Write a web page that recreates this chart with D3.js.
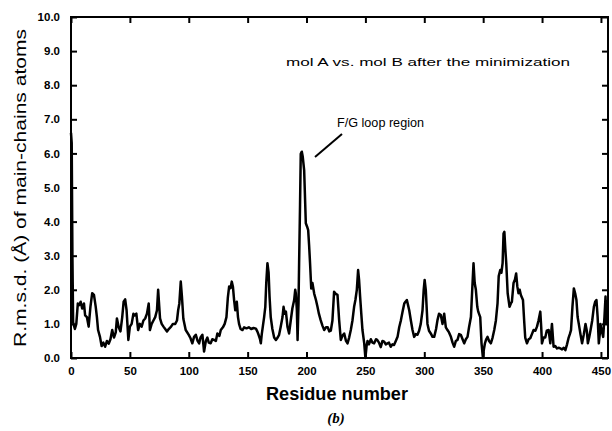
<!DOCTYPE html>
<html>
<head>
<meta charset="utf-8">
<script src="https://cdn.jsdelivr.net/npm/d3@7"></script>
<style>
  body { margin: 0; background: #fff; }
  svg { display: block; font-family: "Liberation Sans", Arial, sans-serif; }
</style>
</head>
<body>
<div id="chart"></div>
<script>
// Residue numbers and r.m.s.d. values, in matching groups
var residues = [
  0, 0.6, 1.2, 1.8, 2.5, 3.3, 4.5, 5.8, 7, 8.2,
  9.5, 11, 12, 13.5, 15, 16.5, 18, 19.5, 21, 22,
  23, 24.6, 26, 27.5, 29, 30.5, 32, 33.5, 35, 36.5,
  38, 39, 40.5, 42, 43.5, 44.7, 46, 47.2, 48.7, 50,
  51.5, 53, 54, 55.5, 57, 58.5, 60, 61.5, 63, 64.5,
  66, 67, 68.5, 70, 71.5, 73, 74, 75.6, 77, 78.5,
  80, 81.5, 83, 85, 86.5, 88.5, 90, 91, 92, 93.2,
  94.2, 95.4, 97.4, 100, 101.5, 103, 104.5, 106, 107.5, 108.8,
  110, 111.6, 113, 114.5, 115.8, 117, 118.6, 120, 121.5, 123,
  124.3, 126, 127.2, 129, 130.5, 132, 133.2, 134.3, 135.5, 136.5,
  137.5, 138.5, 139.5, 140.8, 141.8, 142.7, 144, 145.6, 147, 149,
  151, 153, 155, 157, 158.2, 159.3, 160.5, 161.2, 162, 163,
  164, 165, 165.8, 166.8, 167.8, 168.6, 169.6, 171, 172.5, 174,
  175.5, 176.7, 178, 179.6, 180.5, 181.5, 182.5, 183.8, 185.2, 186.6,
  188, 189.5, 190.4, 190.9, 191.8, 192.4, 193.2, 193.7, 194.5, 195.1,
  196, 196.8, 198, 199.4, 200.5, 201.4, 202.2, 203, 204, 205,
  206.5, 208, 209.3, 210.5, 212, 213.5, 215, 216.5, 218, 219.3,
  220.6, 222, 223.4, 224.8, 226.3, 227.7, 229.1, 230.5, 232, 233.5,
  234.8, 236.2, 237.6, 239, 240.4, 241.5, 242.7, 243.8, 244.6, 245.5,
  246.5, 247.5, 249, 250, 251, 251.8, 253, 254.6, 256, 257.4,
  259, 260, 261.5, 263, 264.5, 265.9, 267.3, 268.7, 270, 271.5,
  273, 274.3, 275.8, 277.3, 278.7, 280.1, 281.5, 283, 284, 285.2,
  286.2, 287.2, 288.6, 290, 291.4, 292.8, 294.2, 295.6, 297, 298.5,
  299.5, 300.3, 301.3, 302.7, 304, 305.5, 307, 308.4, 310, 311.2,
  312.5, 314, 315.5, 316.9, 318.3, 319.7, 321, 322.6, 324, 325.4,
  326.8, 328.2, 329.6, 331, 332.5, 333.9, 335.3, 336.7, 338, 339.6,
  340.7, 341.8, 342.8, 343.8, 345, 345.8, 347.5, 348.6, 349.8, 350.6,
  351.5, 352.6, 353.7, 355, 356.5, 358, 359.4, 360.8, 362.2, 363.2,
  364.5, 365.5, 366.5, 367.3, 368, 368.8, 369.6, 370.8, 372.4, 373.5,
  374.4, 375.8, 377, 378, 379, 380, 381, 382, 383.8, 384.8,
  385.7, 387.2, 388.6, 390, 391.4, 392.8, 394.3, 395.7, 397, 398.5,
  399.3, 399.9, 401.3, 402.7, 404, 405.6, 407, 408.4, 409.8, 411.2,
  412.7, 414, 415.5, 417, 418.5, 419.8, 421.2, 422.6, 423.6, 424.6,
  425.8, 427, 428.1, 429.2, 430.2, 431.2, 432.6, 434, 435.5, 436.9,
  438, 438.9, 440, 441.2, 442.6, 444, 445.1, 446.2, 447.2, 448.2,
  449, 449.6, 450.7, 451.9, 453, 453.9, 454.7, 455.8
];
var rmsd = [
  6.6, 6.3, 3.0, 1.05, 0.95, 0.85, 1.0, 1.6, 1.55, 1.65,
  1.45, 1.6, 1.25, 1.2, 0.92, 1.5, 1.9, 1.85, 1.5, 1.2,
  0.82, 0.62, 0.35, 0.45, 0.33, 0.5, 0.42, 0.55, 0.82, 0.6,
  0.75, 1.16, 0.9, 0.78, 1.2, 1.65, 1.72, 1.4, 0.53, 0.92,
  1.0, 1.3, 1.25, 1.3, 0.82, 1.0, 0.92, 1.1, 1.16, 1.3,
  1.6, 0.82, 1.0, 1.1, 1.2, 1.4, 2.0, 1.16, 1.0, 0.92,
  0.85, 0.78, 0.85, 0.92, 1.0, 1.0, 1.1, 1.4, 1.6, 2.24,
  1.8, 1.15, 0.82, 0.68, 0.58, 0.43, 0.62, 0.68, 0.5, 0.43,
  0.6, 0.68, 0.19, 0.5, 0.6, 0.45, 0.43, 0.55, 0.53, 0.5,
  0.72, 0.65, 0.82, 0.9, 1.0, 1.2, 1.78, 2.1, 2.05, 2.24,
  2.09, 1.7, 1.4, 1.65, 1.2, 1.0, 0.85, 0.82, 0.9, 0.87,
  0.9, 0.85, 0.88, 0.86, 0.78, 0.68, 0.55, 0.43, 0.7, 0.95,
  1.2, 1.5, 2.2, 2.78, 2.5, 1.8, 1.2, 0.85, 0.6, 0.53,
  0.6, 0.68, 0.9, 1.2, 1.5, 1.3, 1.36, 0.92, 0.72, 1.1,
  1.46, 1.7, 2.0, 1.9, 1.4, 0.53, 1.6, 2.78, 4.5, 5.99,
  6.05, 5.9, 5.5, 3.95, 3.85, 3.75, 3.3, 2.78, 2.04, 2.2,
  1.89, 1.7, 1.5, 1.3, 1.11, 0.95, 0.82, 0.9, 0.9, 0.78,
  0.8, 1.1, 1.94, 1.88, 1.85, 1.11, 0.53, 0.65, 0.72, 0.5,
  0.43, 0.6, 0.82, 1.1, 1.5, 1.7, 2.0, 2.58, 2.3, 1.8,
  1.3, 0.82, 0.43, 0.0, 0.35, 0.5, 0.4, 0.55, 0.45, 0.43,
  0.55, 0.53, 0.45, 0.32, 0.5, 0.48, 0.4, 0.43, 0.45, 0.33,
  0.4, 0.38, 0.5, 0.62, 0.9, 1.1, 1.35, 1.6, 1.65, 1.7,
  1.55, 1.4, 1.1, 0.82, 0.62, 0.7, 0.68, 0.8, 1.0, 1.4,
  2.0, 2.29, 1.98, 1.0, 0.8, 0.72, 0.62, 0.62, 0.85, 1.11,
  1.3, 1.26, 1.0, 1.3, 0.9, 0.82, 0.75, 0.62, 0.45, 0.33,
  0.5, 0.53, 0.7, 0.68, 0.55, 0.43, 0.55, 0.62, 0.9, 1.2,
  2.0, 2.78, 2.2, 2.0, 1.5, 1.36, 1.2, 0.43, 0.0, 0.25,
  0.43, 0.55, 0.62, 0.5, 0.43, 0.6, 0.82, 1.1, 1.6, 2.4,
  2.58, 2.5, 2.78, 3.65, 3.7, 3.2, 2.78, 1.9, 1.5, 1.6,
  1.65, 2.2, 2.3, 2.48, 2.1, 1.9, 2.0, 1.85, 1.7, 1.1,
  0.6, 0.43, 0.55, 0.58, 0.7, 0.82, 0.8, 0.92, 1.1, 1.36,
  0.9, 0.43, 0.6, 0.6, 0.8, 0.82, 0.43, 1.0, 0.33, 0.35,
  0.28, 0.3, 0.28, 0.25, 0.3, 0.23, 0.4, 0.6, 0.7, 0.82,
  1.5, 2.04, 1.9, 1.7, 1.2, 1.0, 0.7, 0.43, 0.7, 1.0,
  0.8, 0.43, 0.6, 0.82, 1.1, 1.5, 1.65, 1.7, 1.2, 0.43,
  0.7, 1.0, 0.8, 0.62, 1.2, 1.8, 1.0, 1.7
];

// Tick values
var xTicks = [0, 50, 100, 150, 200, 250, 300, 350, 400, 450];
var yTicks = [0, 1, 2, 3, 4, 5, 6, 7, 8, 9, 10];

// Texts
var annotation = 'mol A vs. mol B after the minimization';
var loopLabel = 'F/G loop region';

// Size and plot box
var width = 612, height = 431;
var plotLeft = 71, plotRight = 608, plotTop = 17, plotBottom = 358;
var TICK = 6;

var x = d3.scaleLinear().domain([0, 456]).range([plotLeft, plotRight]);
var y = d3.scaleLinear().domain([0, 10]).range([plotBottom, plotTop]);

var svg = d3.select('#chart').append('svg')
  .attr('width', width)
  .attr('height', height);

svg.append('rect').attr('width', width).attr('height', height).attr('fill', '#fff');

// ********** AXES (ticks point inward on all four sides) **********

svg.append('g')
  .attr('transform', 'translate(0,' + plotBottom + ')')
  .call(d3.axisBottom(x).tickValues(xTicks).tickSizeInner(-TICK).tickSizeOuter(0).tickPadding(9))
  .call(g => g.select('.domain').remove());

svg.append('g')
  .attr('transform', 'translate(0,' + plotTop + ')')
  .call(d3.axisTop(x).tickValues(xTicks).tickSizeInner(-TICK).tickSizeOuter(0).tickFormat(''))
  .call(g => g.select('.domain').remove());

svg.append('g')
  .attr('transform', 'translate(' + plotLeft + ',0)')
  .call(d3.axisLeft(y).tickValues(yTicks).tickSizeInner(-TICK).tickSizeOuter(0).tickPadding(11).tickFormat(d3.format('.1f')))
  .call(g => g.select('.domain').remove());

svg.append('g')
  .attr('transform', 'translate(' + plotRight + ',0)')
  .call(d3.axisRight(y).tickValues(yTicks).tickSizeInner(-TICK).tickSizeOuter(0).tickFormat(''))
  .call(g => g.select('.domain').remove());

svg.selectAll('.tick line').attr('stroke', '#000').attr('stroke-width', 2);
svg.selectAll('.tick text')
  .attr('fill', '#000')
  .style('font-size', '11.5px')
  .style('font-weight', 'bold')
  .style('font-family', '"Liberation Sans", Arial, sans-serif');

// Frame
svg.append('rect')
  .attr('x', plotLeft)
  .attr('y', plotTop)
  .attr('width', plotRight - plotLeft)
  .attr('height', plotBottom - plotTop)
  .attr('fill', 'none')
  .attr('stroke', '#000')
  .attr('stroke-width', 2);

// ********** DATA LINE **********

var points = residues.map((r, i) => [r, rmsd[i]]);

var line = d3.line()
  .x(d => x(d[0]))
  .y(d => y(d[1]));

svg.append('path')
  .datum(points)
  .attr('d', line)
  .attr('fill', 'none')
  .attr('stroke', '#000')
  .attr('stroke-width', 2.5)
  .attr('stroke-linejoin', 'round');

// ********** LABELS **********

svg.append('text')
  .attr('x', 286)
  .attr('y', 66)
  .attr('textLength', 284)
  .attr('lengthAdjust', 'spacingAndGlyphs')
  .style('font-size', '11px')
  .text(annotation);

svg.append('text')
  .attr('x', 337)
  .attr('y', 127)
  .attr('textLength', 87)
  .attr('lengthAdjust', 'spacingAndGlyphs')
  .style('font-size', '12px')
  .text(loopLabel);

// leader line to the loop peak
svg.append('line')
  .attr('x1', 342).attr('y1', 134)
  .attr('x2', 315).attr('y2', 157)
  .attr('stroke', '#000')
  .attr('stroke-width', 2);

svg.append('text')
  .attr('x', 337)
  .attr('y', 400)
  .attr('text-anchor', 'middle')
  .attr('textLength', 142)
  .attr('lengthAdjust', 'spacingAndGlyphs')
  .style('font-size', '18px')
  .style('font-weight', 'bold')
  .text('Residue number');

svg.append('text')
  .attr('transform', 'translate(26,188) rotate(-90)')
  .attr('text-anchor', 'middle')
  .attr('textLength', 318)
  .attr('lengthAdjust', 'spacingAndGlyphs')
  .style('font-size', '17px')
  .text('R.m.s.d. (Å) of main-chains atoms');

svg.append('text')
  .attr('x', 336)
  .attr('y', 423)
  .attr('text-anchor', 'middle')
  .style('font-size', '15px')
  .style('font-weight', 'bold')
  .style('font-style', 'italic')
  .style('font-family', '"Liberation Serif", "Times New Roman", serif')
  .text('(b)');
</script>
</body>
</html>
